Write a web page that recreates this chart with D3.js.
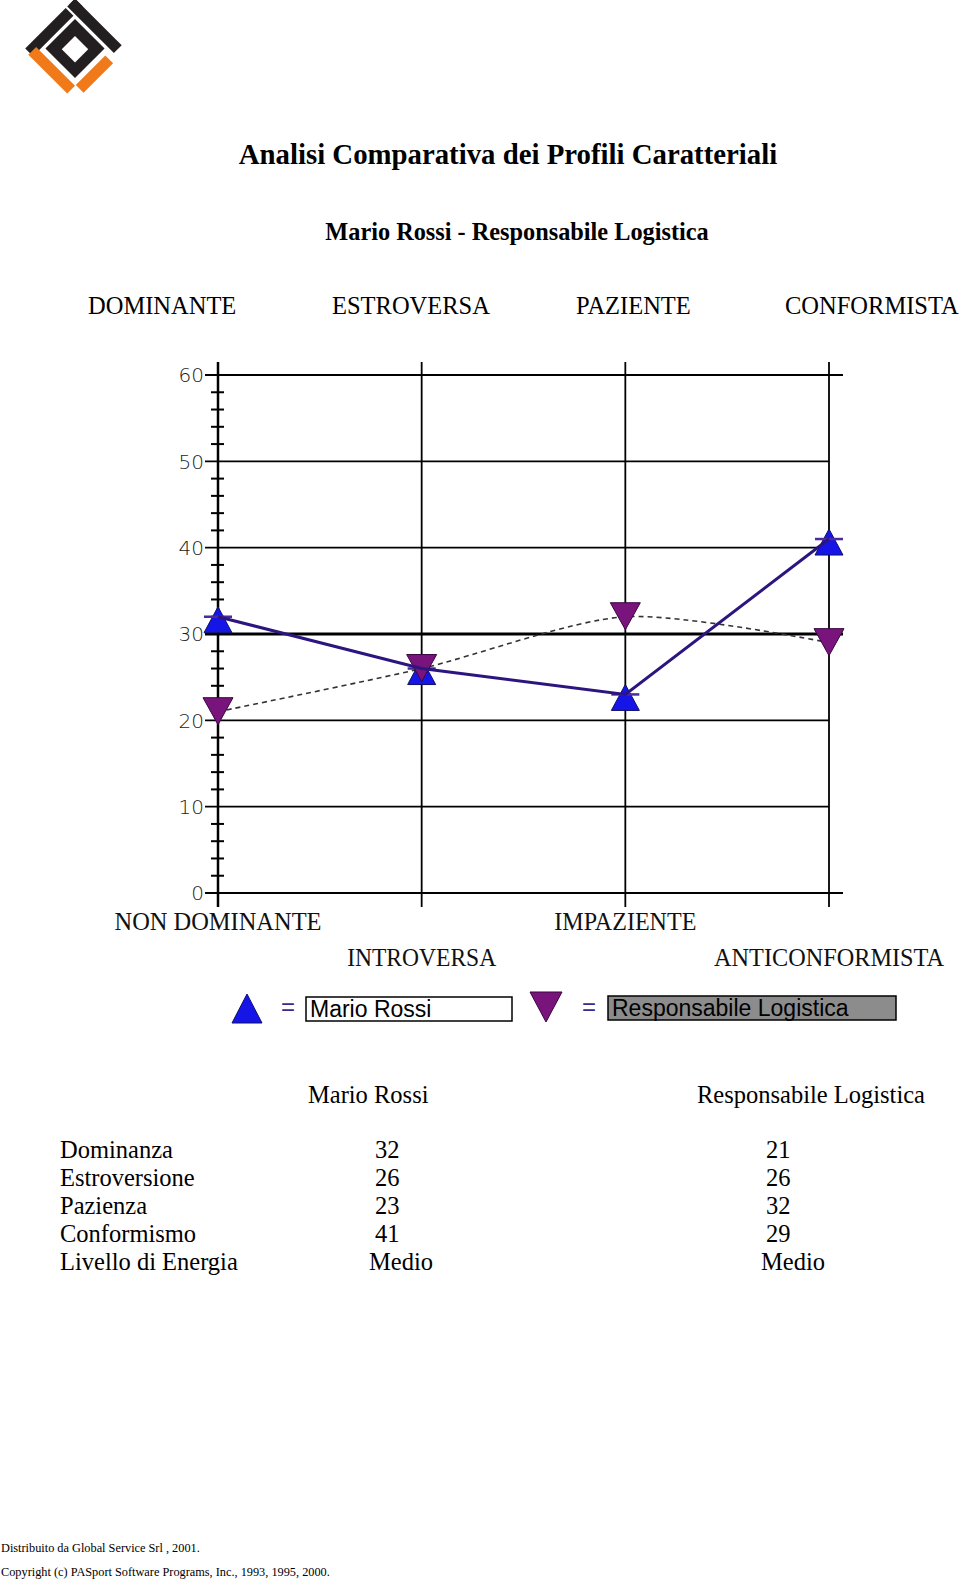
<!DOCTYPE html>
<html>
<head>
<meta charset="utf-8">
<script src="https://cdn.jsdelivr.net/npm/d3@7"></script>
<style>
  html, body { margin: 0; padding: 0; background: #fff; }
  svg { display: block; }
</style>
</head>
<body>
<script>
// ---------- data ----------
const categories = ["Dominanza", "Estroversione", "Pazienza", "Conformismo"];
const topLabels = ["DOMINANTE", "ESTROVERSA", "PAZIENTE", "CONFORMISTA"];
const bottomLabels = ["NON DOMINANTE", "INTROVERSA", "IMPAZIENTE", "ANTICONFORMISTA"];
const seriesNames = ["Mario Rossi", "Responsabile Logistica"];
const marioRossi = [32, 26, 23, 41];
const responsabile = [21, 26, 32, 29];
const energyLabel = "Livello di Energia";
const energyValues = ["Medio", "Medio"];
const yMajorTicks = [0, 10, 20, 30, 40, 50, 60];
const yMinorTicks = d3.range(0, 61, 2).filter(v => v % 10 !== 0);
const averageValue = 30;

const W = 960, H = 1583;
const svg = d3.select("body").append("svg").attr("width", W).attr("height", H);
svg.append("rect").attr("width", W).attr("height", H).attr("fill", "#fff");

// ---------- logo ----------
const logo = svg.append("g").attr("transform", "translate(75,50) scale(1.1) rotate(45)");
const logoParts = [
  {x: -33, y: -21, w: 10, h: 52, c: "#231f20"},
  {x: -33, y: -33, w: 60, h: 10, c: "#231f20"},
  {x: -33, y: -33, w: 10, h: 8, c: "#231f20"},
  {x: -20, y: -20, w: 38, h: 38, c: "#231f20"},
  {x: -27, y: 23, w: 50, h: 10, c: "#f07a1a"},
  {x: 23, y: -16, w: 10, h: 38, c: "#f07a1a"}
];
logo.selectAll("rect.p").data(logoParts).join("rect")
  .attr("x", d => d.x).attr("y", d => d.y).attr("width", d => d.w).attr("height", d => d.h)
  .attr("fill", d => d.c);
logo.append("rect").attr("x", -9).attr("y", -9).attr("width", 17).attr("height", 17).attr("fill", "#fff");

// ---------- titles ----------
const serif = "'Liberation Serif', 'Times New Roman', serif";
svg.append("text").attr("x", 508).attr("y", 164).attr("text-anchor", "middle")
  .attr("font-family", serif).attr("font-weight", "bold").attr("font-size", 28.8)
  .text("Analisi Comparativa dei Profili Caratteriali");
svg.append("text").attr("x", 517).attr("y", 240).attr("text-anchor", "middle")
  .attr("font-family", serif).attr("font-weight", "bold").attr("font-size", 24.3)
  .text(seriesNames[0] + " - " + seriesNames[1]);
const topX = [88, 332, 576, 785];
svg.selectAll("text.top").data(topLabels).join("text")
  .attr("x", (d, i) => topX[i]).attr("y", 314)
  .attr("font-family", serif).attr("font-size", 24.5).text(d => d);

// ---------- chart ----------
const x = d3.scalePoint().domain(categories).range([218, 829]);
const y = d3.scaleLinear().domain([0, 60]).range([893, 375]);
const g = svg.append("g");

// vertical grid lines (except axis)
g.selectAll("line.vg").data(categories.slice(1)).join("line")
  .attr("x1", d => x(d)).attr("x2", d => x(d))
  .attr("y1", 362).attr("y2", 907)
  .attr("stroke", "#000").attr("stroke-width", 1.8);

// horizontal grid lines
g.selectAll("line.hg").data(yMajorTicks).join("line")
  .attr("x1", 205)
  .attr("x2", d => (d === 0 || d === 60 || d === averageValue) ? 843 : x(categories[3]))
  .attr("y1", d => y(d)).attr("y2", d => y(d))
  .attr("stroke", "#000")
  .attr("stroke-width", d => d === averageValue ? 3 : 1.8);

// minor ticks
g.selectAll("line.mt").data(yMinorTicks).join("line")
  .attr("x1", 211).attr("x2", 224)
  .attr("y1", d => y(d)).attr("y2", d => y(d))
  .attr("stroke", "#000").attr("stroke-width", 2);

// y axis
g.append("line").attr("x1", x(categories[0])).attr("x2", x(categories[0]))
  .attr("y1", 362).attr("y2", 907).attr("stroke", "#000").attr("stroke-width", 2.5);

// tick labels
g.selectAll("text.yt").data(yMajorTicks).join("text")
  .attr("x", 204).attr("y", d => y(d)).attr("dy", "0.36em")
  .attr("text-anchor", "end")
  .attr("font-family", "'DejaVu Sans', sans-serif").attr("font-weight", 200)
  .attr("font-size", 20).attr("fill", "#222")
  .text(d => d);

// bottom category labels (two staggered rows)
const bottomWidths = [207, 149, 142, 230];
g.selectAll("text.bl").data(bottomLabels).join("text")
  .attr("x", (d, i) => x(categories[i]))
  .attr("y", (d, i) => i % 2 === 0 ? 930 : 966)
  .attr("text-anchor", "middle")
  .attr("font-family", serif).attr("font-size", 26)
  .attr("textLength", (d, i) => bottomWidths[i])
  .attr("lengthAdjust", "spacingAndGlyphs")
  .attr("fill", "#111")
  .text(d => d);

// series lines
const lineCurve = d3.line().x((d, i) => x(categories[i])).y(d => y(d)).curve(d3.curveCardinal.tension(0.2));
const lineLin = d3.line().x((d, i) => x(categories[i])).y(d => y(d));

g.append("path").attr("d", lineCurve(responsabile))
  .attr("fill", "none").attr("stroke", "#333").attr("stroke-width", 1.6)
  .attr("stroke-dasharray", "5,4");

const upTri = "M0,-10 L14,16 L-14,16 Z";
const downTri = "M-15,-14 L15,-14 L0,13 Z";

// Mario Rossi markers
const mg = g.selectAll("g.mr").data(marioRossi).join("g")
  .attr("transform", (d, i) => `translate(${x(categories[i])},${y(d)})`);
mg.append("path").attr("d", upTri).attr("fill", "#1515e8").attr("stroke", "#10106a").attr("stroke-width", 1);
mg.append("line").attr("x1", -14).attr("x2", 14).attr("y1", 0).attr("y2", 0)
  .attr("stroke", "#4a2c9c").attr("stroke-width", 2.5);

// Responsabile markers
g.selectAll("path.rl").data(responsabile).join("path")
  .attr("d", downTri)
  .attr("transform", (d, i) => `translate(${x(categories[i])},${y(d)})`)
  .attr("fill", "#78147c").attr("stroke", "#3a0640").attr("stroke-width", 1);

// Mario Rossi line on top
g.append("path").attr("d", lineLin(marioRossi))
  .attr("fill", "none").attr("stroke", "#2c157f").attr("stroke-width", 3);

// ---------- legend ----------
const sans = "'Liberation Sans', Arial, sans-serif";
const lg = svg.append("g");
lg.append("path").attr("d", "M247,994 L262,1023 L232,1023 Z").attr("fill", "#1515e8").attr("stroke", "#10106a");
lg.append("text").attr("x", 281).attr("y", 1015).attr("font-family", sans).attr("font-size", 24)
  .attr("fill", "#3a2a8c").text("=");
lg.append("rect").attr("x", 306).attr("y", 997).attr("width", 206).attr("height", 24)
  .attr("fill", "#fff").attr("stroke", "#000").attr("stroke-width", 1.5);
lg.append("text").attr("x", 310).attr("y", 1017).attr("font-family", sans).attr("font-size", 23)
  .text(seriesNames[0]);
lg.append("path").attr("d", "M530,992 L562,992 L546,1022 Z").attr("fill", "#78147c").attr("stroke", "#3a0640");
lg.append("text").attr("x", 582).attr("y", 1015).attr("font-family", sans).attr("font-size", 24)
  .attr("fill", "#3a2a8c").text("=");
lg.append("rect").attr("x", 608).attr("y", 996).attr("width", 288).attr("height", 24)
  .attr("fill", "#8c8c8c").attr("stroke", "#000").attr("stroke-width", 1.5);
lg.append("text").attr("x", 612).attr("y", 1016).attr("font-family", sans).attr("font-size", 23)
  .text(seriesNames[1]);

// ---------- table ----------
svg.append("text").attr("x", 308).attr("y", 1103).attr("font-family", serif).attr("font-size", 24.5).text(seriesNames[0]);
svg.append("text").attr("x", 697).attr("y", 1103).attr("font-family", serif).attr("font-size", 24.5).text(seriesNames[1]);
const rowY = d3.scalePoint().domain(d3.range(5)).range([1158, 1270]);
const rowLabels = categories.concat([energyLabel]);
svg.selectAll("text.rl").data(rowLabels).join("text")
  .attr("x", 60).attr("y", (d, i) => rowY(i))
  .attr("font-family", serif).attr("font-size", 24.5).text(d => d);
const col1 = marioRossi.map(String).concat([energyValues[0]]);
const col2 = responsabile.map(String).concat([energyValues[1]]);
svg.selectAll("text.c1").data(col1).join("text")
  .attr("x", (d, i) => i < 4 ? 375 : 369).attr("y", (d, i) => rowY(i))
  .attr("font-family", serif).attr("font-size", 24.5).text(d => d);
svg.selectAll("text.c2").data(col2).join("text")
  .attr("x", (d, i) => i < 4 ? 766 : 761).attr("y", (d, i) => rowY(i))
  .attr("font-family", serif).attr("font-size", 24.5).text(d => d);

// ---------- footer ----------
svg.append("text").attr("x", 1).attr("y", 1552).attr("font-family", serif).attr("font-size", 12.3)
  .text("Distribuito da Global Service Srl , 2001.");
svg.append("text").attr("x", 1).attr("y", 1576).attr("font-family", serif).attr("font-size", 12.3)
  .text("Copyright (c) PASport Software Programs, Inc., 1993, 1995, 2000.");
</script>
</body>
</html>
